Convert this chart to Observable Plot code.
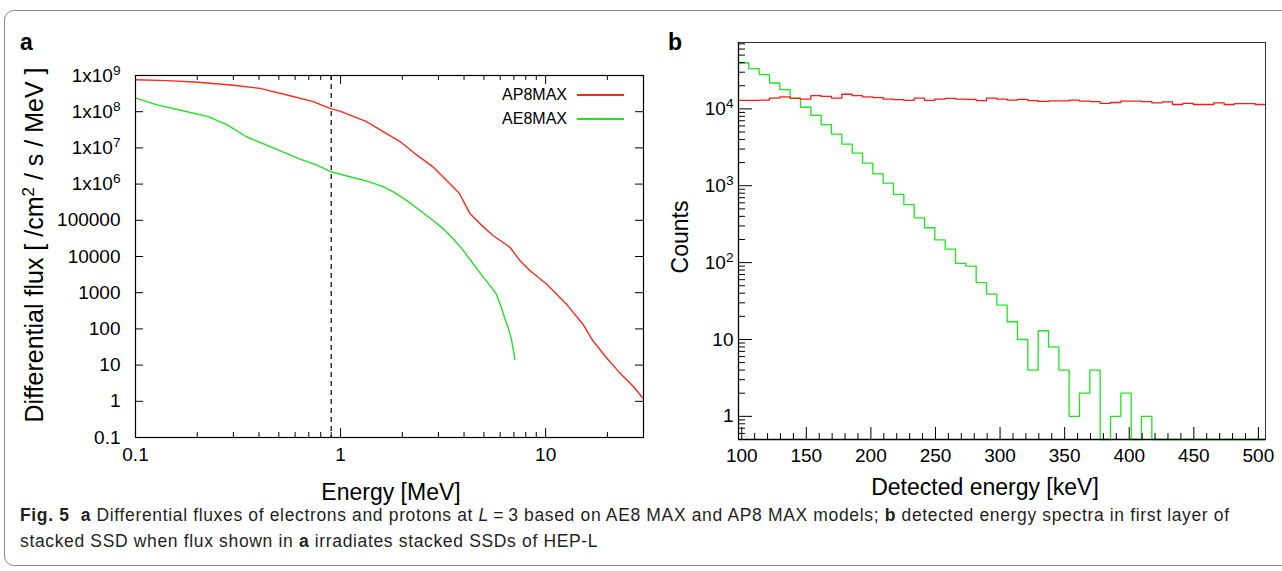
<!DOCTYPE html>
<html><head><meta charset="utf-8">
<script src="https://cdn.jsdelivr.net/npm/d3@7"></script>
<script src="https://cdn.jsdelivr.net/npm/@observablehq/plot@0.6"></script>
<style>
body{margin:0;background:#fff;width:1282px;height:571px;overflow:hidden;position:relative;font-family:"Liberation Sans",Helvetica,Arial,sans-serif;color:#000;}
#border{position:absolute;left:4px;top:10px;width:1320px;height:554px;border:1px solid #8a8a8a;border-radius:10px;}
.abs{position:absolute;}
.tag{font-weight:bold;font-size:23px;line-height:23px;}
.title{font-size:23px;line-height:26px;white-space:nowrap;text-align:center;}
.rot{transform:rotate(-90deg);transform-origin:center center;}
.leg{font-size:16px;line-height:18px;white-space:nowrap;}
.legline{position:absolute;height:1.6px;}
#caption{left:20px;top:502px;font-family:"Liberation Sans",Arial,sans-serif;font-size:17.5px;letter-spacing:0.65px;line-height:26px;color:#231f20;white-space:nowrap;}
</style></head><body>
<div id="border"></div>
<div id="pa" class="abs" style="left:0;top:0"></div>
<div id="pb" class="abs" style="left:660px;top:0"></div>
<div class="abs tag" style="left:20px;top:31px">a</div>
<div class="abs tag" style="left:668px;top:31px">b</div>
<div class="abs title rot" style="left:-166px;top:232px;width:400px;font-size:25px">Differential flux [ /cm<sup style="font-size:0.68em;vertical-align:0.55em;line-height:0">2</sup> / s / MeV ]</div>
<div class="abs title" style="left:191px;top:479px;width:400px">Energy [MeV]</div>
<div class="abs title rot" style="left:580px;top:224px;width:200px">Counts</div>
<div class="abs title" style="left:785px;top:474px;width:400px">Detected energy [keV]</div>
<div class="abs leg" style="left:467px;top:86px;width:100px;text-align:right">AP8MAX</div>
<div class="legline" id="l1" style="left:577px;top:94px;width:47px"></div>
<div class="abs leg" style="left:467px;top:110px;width:100px;text-align:right">AE8MAX</div>
<div class="legline" id="l2" style="left:577px;top:118px;width:47px"></div>
<div id="caption" class="abs"><b>Fig. 5</b>&nbsp; <b>a</b> Differential fluxes of electrons and protons at <i>L</i>&#8201;=&#8201;3 based on AE8 MAX and AP8 MAX models; <b>b</b> detected energy spectra in first layer of<br>stacked SSD when flux shown in <b>a</b> irradiates stacked SSDs of HEP-L</div>
<script>
// ---------- Panel a data ----------
const seriesNamesA = ["AP8MAX", "AE8MAX"];
const colorsA = ["#ff2a1a", "#22e022"];
const ap8Energy = [0.1, 0.143, 0.202, 0.30, 0.405, 0.567, 0.736, 0.887, 1.0, 1.33, 1.95, 2.34, 2.82, 3.27, 3.80, 4.03, 4.27, 4.78, 5.53, 6.69, 7.48, 8.37, 10.1, 12.6, 15.2, 17.0, 19.8, 22.9, 26.7, 29.9];
const ap8Flux = [7.6e8, 7.2e8, 6.5e8, 5.4e8, 4.4e8, 2.75e8, 1.9e8, 1.23e8, 1.02e8, 5.4e7, 1.5e7, 6.5e6, 3.0e6, 1.3e6, 5.5e5, 2.9e5, 1.55e5, 8.1e4, 3.8e4, 1.8e4, 7800, 4100, 1740, 490, 135, 47, 16, 6.2, 2.6, 1.19];
const ae8Energy = [0.1, 0.127, 0.166, 0.224, 0.279, 0.349, 0.436, 0.63, 0.762, 0.896, 1.11, 1.33, 1.61, 1.80, 2.09, 2.43, 2.82, 3.16, 3.54, 3.96, 4.43, 4.96, 5.44, 5.75, 6.08, 6.31, 6.55, 6.80, 7.08];
const ae8Flux = [2.4e8, 1.55e8, 1.1e8, 7.4e7, 4.4e7, 2.0e7, 1.2e7, 5.0e6, 3.4e6, 2.2e6, 1.6e6, 1.23e6, 8.5e5, 6.2e5, 3.6e5, 1.9e5, 1.0e5, 5.9e4, 3.1e4, 1.48e4, 6300, 2700, 1400, 910, 390, 204, 110, 54, 14.5];
const cutEnergy = [0.9];
const xTicksA = [0.1, 1, 10];
const xTickLabelsA = ["0.1", "1", "10"];
const xMinorA = [0.2, 0.3, 0.4, 0.5, 0.6, 0.7, 0.8, 0.9, 2, 3, 4, 5, 6, 7, 8, 9, 20, 30];
const yTicksA = [0.1, 1, 10, 100, 1000, 1e4, 1e5, 1e6, 1e7, 1e8, 1e9];
const yTickLabelsA = ["0.1", "1", "10", "100", "1000", "10000", "100000", "1x10^6", "1x10^7", "1x10^8", "1x10^9"];

// ---------- Panel b data ----------
const binLow = 97.5, binWidth = 8;   // histogram definition (51 bins)
const protonCounts = [12900, 12900, 13000, 13800, 14300, 13700, 13400, 14900, 14500, 13800, 15500, 14900, 14300, 14000, 13400, 13200, 12900, 13800, 12900, 13400, 13700, 13400, 13300, 12800, 13800, 13400, 13000, 13300, 12800, 12500, 12700, 12700, 13000, 12600, 12400, 11800, 12100, 12600, 12600, 12400, 12000, 12300, 11400, 11800, 11400, 11400, 12000, 11400, 11700, 11700, 11400];
const electronCounts = [39500, 33400, 27900, 21700, 17800, 13800, 10500, 8230, 6220, 4700, 3480, 2660, 1970, 1430, 1080, 770, 567, 383, 284, 198, 150, 98, 90, 55, 39, 28, 17, 10, 4, 13, 8, 4, 1, 2, 4, 0, 1, 2, 0, 1, 0, 0, 0, 0, 0, 0, 0, 0, 0, 0, 0];
const colorsB = ["#ff1a1a", "#1ee61e"];
const xTicksB = [100, 150, 200, 250, 300, 350, 400, 450, 500];
const xMinorB = [110,120,130,140,160,170,180,190,210,220,230,240,260,270,280,290,310,320,330,340,360,370,380,390,410,420,430,440,460,470,480,490];
const yTicksB = [1, 10, 100, 1000, 10000];
const yTickLabelsB = ["1", "10", "10^2", "10^3", "10^4"];
const yMinorB = [0.5,0.6,0.7,0.8,0.9,2,3,4,5,6,7,8,9,20,30,40,50,60,70,80,90,200,300,400,500,600,700,800,900,2000,3000,4000,5000,6000,7000,8000,9000,20000,30000,40000,50000,60000,70000];
const yDomainB = [0.5, 73000];

const FONT = "'Liberation Sans', Helvetica, Arial, sans-serif";
document.getElementById("l1").style.background = colorsA[0];
document.getElementById("l2").style.background = colorsA[1];

function supify(svg) {
  d3.select(svg).selectAll("text").each(function () {
    const t = this.textContent;
    if (t.includes("^")) {
      const [b, e] = t.split("^");
      const s = d3.select(this);
      s.text(b);
      s.append("tspan").attr("dy", "-0.5em").attr("font-size", "0.72em").text(e);
    }
  });
}

// ---------- Panel a ----------
const WA = 660, HA = 500, mlA = 135, mrA = 17, mtA = 75, mbA = 63;
const fwA = WA - mlA - mrA, fhA = HA - mtA - mbA;
const ap8 = ap8Energy.map((e, i) => ({e, f: ap8Flux[i]}));
const ae8 = ae8Energy.map((e, i) => ({e, f: ae8Flux[i]}));
const plotA = Plot.plot({
  width: WA, height: HA, marginLeft: mlA, marginRight: mrA, marginTop: mtA, marginBottom: mbA,
  style: {fontFamily: FONT, fontSize: "19px", color: "#000", background: "transparent", overflow: "visible"},
  x: {type: "log", domain: [0.1, 30]},
  y: {type: "log", domain: [0.1, 1e9]},
  marks: [
    Plot.ruleX(cutEnergy, {stroke: "#000", strokeWidth: 1.2, strokeDasharray: "5,4"}),
    Plot.line(ap8, {x: "e", y: "f", stroke: colorsA[0], strokeWidth: 1.4}),
    Plot.line(ae8, {x: "e", y: "f", stroke: colorsA[1], strokeWidth: 1.4}),
    Plot.frame({stroke: "#000", strokeWidth: 1.2}),
    Plot.ruleX(xTicksA, {insetTop: fhA - 9, stroke: "#000"}),
    Plot.ruleX(xTicksA, {insetBottom: fhA - 9, stroke: "#000"}),
    Plot.ruleX(xMinorA, {insetTop: fhA - 5, stroke: "#000"}),
    Plot.ruleX(xMinorA, {insetBottom: fhA - 5, stroke: "#000"}),
    Plot.ruleY(yTicksA, {insetRight: fwA - 8, stroke: "#000"}),
    Plot.ruleY(yTicksA, {insetLeft: fwA - 8, stroke: "#000"}),
    Plot.axisX({ticks: xTicksA, tickSize: 0, tickPadding: 10, label: null, tickFormat: d => xTickLabelsA[xTicksA.indexOf(d)]}),
    Plot.axisY({ticks: yTicksA, tickSize: 0, tickPadding: 15, label: null, tickFormat: d => yTickLabelsA[yTicksA.indexOf(d)]})
  ]
});
supify(plotA);
document.getElementById("pa").appendChild(plotA);

// ---------- Panel b ----------
const WB = 622, HB = 500, mlB = 78, mrB = 17, mtB = 42, mbB = 61;
const fwB = WB - mlB - mrB, fhB = HB - mtB - mbB;
function histPoints(counts) {
  const pts = counts.map((c, i) => ({x: binLow + i * binWidth, y: Math.max(c, yDomainB[0])}));
  pts.push({x: binLow + counts.length * binWidth, y: pts[pts.length - 1].y});
  return pts;
}
const plotB = Plot.plot({
  width: WB, height: HB, marginLeft: mlB, marginRight: mrB, marginTop: mtB, marginBottom: mbB,
  style: {fontFamily: FONT, fontSize: "19px", color: "#000", background: "transparent", overflow: "visible"},
  x: {domain: [binLow, binLow + protonCounts.length * binWidth]},
  y: {type: "log", domain: yDomainB},
  marks: [
    Plot.line(histPoints(electronCounts), {x: "x", y: "y", curve: "step-after", stroke: colorsB[1], strokeWidth: 1.3}),
    Plot.line(histPoints(protonCounts), {x: "x", y: "y", curve: "step-after", stroke: colorsB[0], strokeWidth: 1.3}),
    Plot.frame({stroke: "#333", strokeWidth: 1}),
    Plot.ruleX([binLow], {stroke: "#000", strokeWidth: 1.3}),
    Plot.ruleY([yDomainB[0]], {stroke: "#000", strokeWidth: 1.6}),
    Plot.ruleX(xTicksB, {insetTop: fhB - 12, stroke: "#000"}),
    Plot.ruleX(xMinorB, {insetTop: fhB - 6, stroke: "#000"}),
    Plot.ruleY(yTicksB, {insetRight: fwB - 14, stroke: "#000"}),
    Plot.ruleY(yMinorB, {insetRight: fwB - 7, stroke: "#000"}),
    Plot.axisX({ticks: xTicksB, tickSize: 0, tickPadding: 9, label: null, tickFormat: d => String(d)}),
    Plot.axisY({ticks: yTicksB, tickSize: 0, tickPadding: 5, label: null, tickFormat: d => yTickLabelsB[yTicksB.indexOf(d)]})
  ]
});
supify(plotB);
document.getElementById("pb").appendChild(plotB);
</script>
</body></html>
